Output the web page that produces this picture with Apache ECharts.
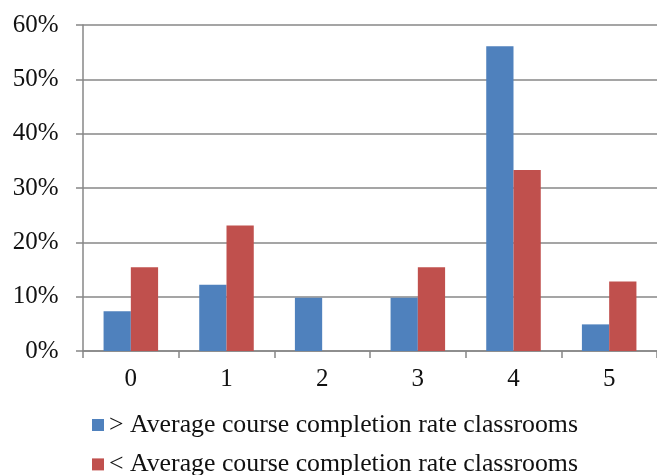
<!DOCTYPE html>
<html>
<head>
<meta charset="utf-8">
<script src="https://cdn.jsdelivr.net/npm/echarts@6/dist/echarts.min.js"></script>
<style>
  html, body { margin: 0; padding: 0; background: #fff; }
  #chart { width: 657px; height: 475px; }
</style>
</head>
<body>
<div id="chart"></div>
<script>
// Share of classrooms by count, split by course completion rate
const categories = ['0', '1', '2', '3', '4', '5'];
const aboveAverage = [7.3, 12.2, 9.8, 9.8, 56.1, 4.9];
const belowAverage = [15.4, 23.1, 0, 15.4, 33.3, 12.8];
const yTicks = [0, 10, 20, 30, 40, 50, 60];

const seriesNames = [
  '> Average course completion rate classrooms',
  '< Average course completion rate classrooms'
];

const FONT = 'Liberation Serif';
const GRID_COLOR = '#878787';
const TEXT_COLOR = '#111';
const COLORS = ['#4F81BD', '#C0504D'];

// One legend block per series, stacked in two rows
function legendRow(name, top) {
  return {
    orient: 'horizontal',
    left: 92,
    top: top,
    padding: 0,
    itemWidth: 12,
    itemHeight: 12,
    icon: 'rect',
    textStyle: { fontFamily: FONT, fontSize: 25.8, lineHeight: 22, color: TEXT_COLOR },
    data: [name]
  };
}

const chart = echarts.init(document.getElementById('chart'), null, { renderer: 'canvas' });

chart.setOption({
  animation: false,
  textStyle: { fontFamily: FONT },
  grid: { left: 83, right: 0, top: 25, bottom: 124, containLabel: false },
  legend: [legendRow(seriesNames[0], 412), legendRow(seriesNames[1], 451.4)],
  xAxis: {
    type: 'category',
    data: categories,
    boundaryGap: true,
    axisLine: { show: true, lineStyle: { color: GRID_COLOR, width: 1.5 } },
    axisTick: { show: true, alignWithLabel: false, length: 7, lineStyle: { color: GRID_COLOR, width: 1.5 } },
    axisLabel: { fontFamily: FONT, fontSize: 25, color: TEXT_COLOR, margin: 16 }
  },
  yAxis: {
    type: 'value',
    min: yTicks[0],
    max: yTicks[yTicks.length - 1],
    interval: 10,
    axisLine: { show: true, lineStyle: { color: GRID_COLOR, width: 1.5 } },
    axisTick: { show: true, length: 7, lineStyle: { color: GRID_COLOR, width: 1.5 } },
    splitLine: { show: true, lineStyle: { color: GRID_COLOR, width: 1.5 } },
    axisLabel: { fontFamily: FONT, fontSize: 25, color: TEXT_COLOR, margin: 24.5, formatter: '{value}%' }
  },
  series: [
    {
      name: seriesNames[0],
      type: 'bar',
      data: aboveAverage,
      barGap: '0%',
      barCategoryGap: '43%',
      itemStyle: { color: COLORS[0] }
    },
    {
      name: seriesNames[1],
      type: 'bar',
      data: belowAverage,
      barGap: '0%',
      barCategoryGap: '43%',
      itemStyle: { color: COLORS[1] }
    }
  ]
});
</script>
</body>
</html>
